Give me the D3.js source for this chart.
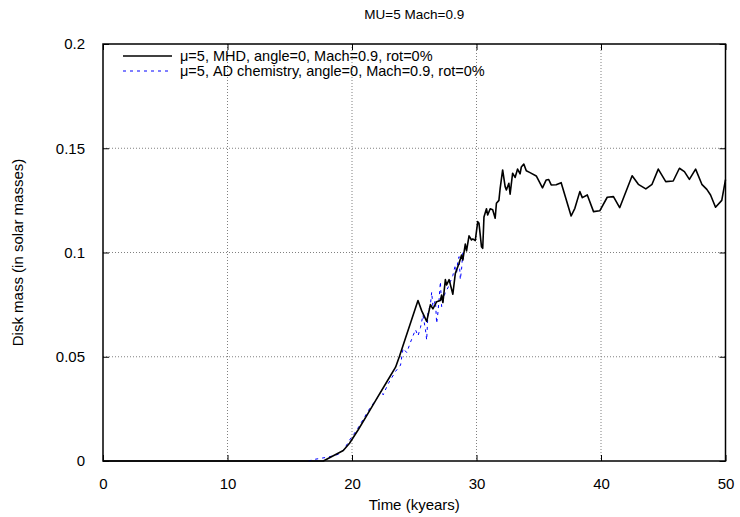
<!DOCTYPE html>
<html>
<head>
<meta charset="utf-8">
<script src="https://cdn.jsdelivr.net/npm/d3@7"></script>
<style>
  body { margin: 0; background: #fff; }
  svg text { font-family: "Liberation Sans", Arial, sans-serif; fill: #000; }
</style>
</head>
<body>
<div id="chart"></div>
<script>
const chartTitle = "MU=5 Mach=0.9";
const xLabel = "Time (kyears)";
const yLabel = "Disk mass (in solar masses)";
const xTicks = [0, 10, 20, 30, 40, 50];
const yTicks = [0, 0.05, 0.1, 0.15, 0.2];
const yTickLabels = ["0", "0.05", "0.1", "0.15", "0.2"];

const seriesNames = [
  "\u03bc=5, MHD, angle=0, Mach=0.9, rot=0%",
  "\u03bc=5, AD chemistry, angle=0, Mach=0.9, rot=0%"
];

// MHD run: time (kyr), disk mass (Msun)
const mhdTime = [0, 5, 10, 15, 17.7, 19.3, 19.8, 20.5, 21.3, 22.0, 22.8, 23.5, 23.8, 24.3, 24.8, 25.3, 25.6, 26.0,
  26.3, 26.5, 26.8, 27.1, 27.2, 27.3, 27.5, 27.6, 27.8, 28.1, 28.3, 28.4, 28.6, 28.8, 28.9, 29.1, 29.2, 29.4,
  29.6, 29.7, 29.9, 30.1, 30.2, 30.4, 30.5, 30.6, 30.8, 30.9, 31.1, 31.3, 31.5, 31.6, 31.8, 31.9, 32.1, 32.3,
  32.4, 32.6, 32.7, 32.9, 33.1, 33.3, 33.5, 33.6, 33.8, 34.0, 34.3, 34.8, 35.3, 35.6, 35.8, 36.0, 36.4, 36.8,
  37.6, 37.9, 38.3, 38.5, 38.9, 39.4, 39.9, 40.5, 41.0, 41.5, 42.5, 43.0, 43.6, 44.1, 44.6, 45.2, 45.8, 46.3,
  46.7, 47.1, 47.6, 48.1, 48.5, 48.8, 49.2, 49.7, 50.0];
const mhdMass = [0, 0, 0, 0, 0, 0.005, 0.0085, 0.015, 0.023, 0.030, 0.038, 0.045, 0.050, 0.059, 0.068, 0.077, 0.072, 0.067,
  0.075, 0.073, 0.0764, 0.077, 0.0796, 0.076, 0.087, 0.0844, 0.087, 0.080, 0.090, 0.0916, 0.0948, 0.0988, 0.0964, 0.104, 0.1008, 0.108,
  0.106, 0.1065, 0.1057, 0.1148, 0.114, 0.1028, 0.102, 0.117, 0.121, 0.118, 0.121, 0.1205, 0.1164, 0.1236, 0.125, 0.1308, 0.1396, 0.1316,
  0.130, 0.1332, 0.128, 0.138, 0.136, 0.140, 0.1377, 0.141, 0.1424, 0.1392, 0.1383, 0.1367, 0.131, 0.1348, 0.135, 0.1324, 0.1325, 0.1335,
  0.1175, 0.1212, 0.1292, 0.1263, 0.1276, 0.1196, 0.120, 0.1265, 0.1268, 0.1215, 0.1368, 0.1327, 0.1305, 0.1327, 0.140, 0.134, 0.1343, 0.1404,
  0.1388, 0.1351, 0.140, 0.1327, 0.1303, 0.1276, 0.1217, 0.125, 0.135];

// AD chemistry run
const adTime = [16.5, 17.0, 17.5, 18.0, 18.5, 19.0, 19.4, 19.8, 20.4, 20.9, 21.4, 22.0, 22.4, 22.5, 22.9, 23.1, 23.5, 23.9,
  24.1, 24.4, 24.7, 25.1, 25.3, 25.5, 25.7, 25.9, 26.0, 26.1, 26.3, 26.4, 26.5, 26.7, 26.8, 26.9, 27.0, 27.1,
  27.2, 27.4, 27.5, 27.7, 27.9, 28.1, 28.3, 28.4, 28.5, 28.6, 28.7, 28.8, 28.9, 29.0];
const adMass = [0, 0.0008, 0.0013, 0.0018, 0.0025, 0.0034, 0.006, 0.010, 0.015, 0.020, 0.025, 0.030, 0.034, 0.0317, 0.037, 0.039, 0.043, 0.046,
  0.054, 0.052, 0.057, 0.063, 0.060, 0.064, 0.070, 0.063, 0.058, 0.071, 0.075, 0.081, 0.074, 0.077, 0.066, 0.071, 0.078, 0.086,
  0.074, 0.079, 0.081, 0.083, 0.086, 0.089, 0.094, 0.090, 0.096, 0.098, 0.087, 0.092, 0.100, 0.095];

const W = 740, H = 517;
const m = { top: 44, right: 14.5, bottom: 56, left: 103 };
const iw = W - m.left - m.right;
const ih = H - m.top - m.bottom;

const svg = d3.select("#chart").append("svg")
  .attr("width", W).attr("height", H);
const g = svg.append("g").attr("transform", `translate(${m.left},${m.top})`);

const x = d3.scaleLinear().domain([0, 50]).range([0, iw]);
const y = d3.scaleLinear().domain([0, 0.2]).range([ih, 0]);

// grid
g.append("g").selectAll("line").data(xTicks.slice(1, -1)).join("line")
  .attr("x1", d => x(d)).attr("x2", d => x(d)).attr("y1", 0).attr("y2", ih)
  .attr("stroke", "#808080").attr("stroke-width", 1).attr("stroke-dasharray", "1,2");
g.append("g").selectAll("line").data(yTicks.slice(1, -1)).join("line")
  .attr("y1", d => y(d)).attr("y2", d => y(d)).attr("x1", 0).attr("x2", iw)
  .attr("stroke", "#808080").attr("stroke-width", 1).attr("stroke-dasharray", "1,2");

// axes (inward ticks, mirrored)
const tk = 6;
g.append("g").attr("transform", `translate(0,${ih})`)
  .call(d3.axisBottom(x).tickValues(xTicks).tickSize(-tk).tickPadding(tk + 11).tickFormat(d3.format("d")))
  .call(a => a.select(".domain").remove());
g.append("g")
  .call(d3.axisTop(x).tickValues(xTicks).tickSize(-tk).tickFormat(""))
  .call(a => a.select(".domain").remove());
g.append("g")
  .call(d3.axisLeft(y).tickValues(yTicks).tickSize(-tk).tickPadding(tk + 12).tickFormat((d, i) => yTickLabels[i]))
  .call(a => a.select(".domain").remove());
g.append("g").attr("transform", `translate(${iw},0)`)
  .call(d3.axisRight(y).tickValues(yTicks).tickSize(-tk).tickFormat(""))
  .call(a => a.select(".domain").remove());
g.selectAll(".tick line").attr("stroke", "#000");
g.selectAll(".tick text").style("font-size", "15px");

// frame
g.append("rect").attr("width", iw).attr("height", ih)
  .attr("fill", "none").attr("stroke", "#000").attr("stroke-width", 1.5);

// curves
const line = d3.line().x(d => x(d[0])).y(d => y(d[1]));
const adPts = adTime.map((t, i) => [t, adMass[i]]);
const mhdPts = mhdTime.map((t, i) => [t, mhdMass[i]]);

g.append("path").datum(adPts).attr("d", line)
  .attr("fill", "none").attr("stroke", "#0000ff").attr("stroke-width", 1)
  .attr("stroke-dasharray", "3,4");
g.append("path").datum(mhdPts).attr("d", line)
  .attr("fill", "none").attr("stroke", "#000").attr("stroke-width", 1.6)
  .attr("stroke-linejoin", "round");

// legend
const legX = 20, legY = [12, 27];
const legStyles = [
  { stroke: "#000", width: 1.6, dash: null },
  { stroke: "#0000ff", width: 1, dash: "3,4" }
];
seriesNames.forEach((name, i) => {
  g.append("line")
    .attr("x1", legX).attr("x2", legX + 49).attr("y1", legY[i]).attr("y2", legY[i])
    .attr("stroke", legStyles[i].stroke).attr("stroke-width", legStyles[i].width)
    .attr("stroke-dasharray", legStyles[i].dash);
  g.append("text")
    .attr("x", legX + 57).attr("y", legY[i]).attr("dy", "0.35em")
    .style("font-size", "14.5px").text(name);
});

// titles
svg.append("text").attr("x", m.left + iw / 2).attr("y", 19)
  .attr("text-anchor", "middle").style("font-size", "13.5px").text(chartTitle);
svg.append("text").attr("x", m.left + iw / 2).attr("y", 510)
  .attr("text-anchor", "middle").style("font-size", "15px").text(xLabel);
svg.append("text").attr("transform", `translate(23,${m.top + ih / 2}) rotate(-90)`)
  .attr("text-anchor", "middle").style("font-size", "15px").text(yLabel);
</script>
</body>
</html>
